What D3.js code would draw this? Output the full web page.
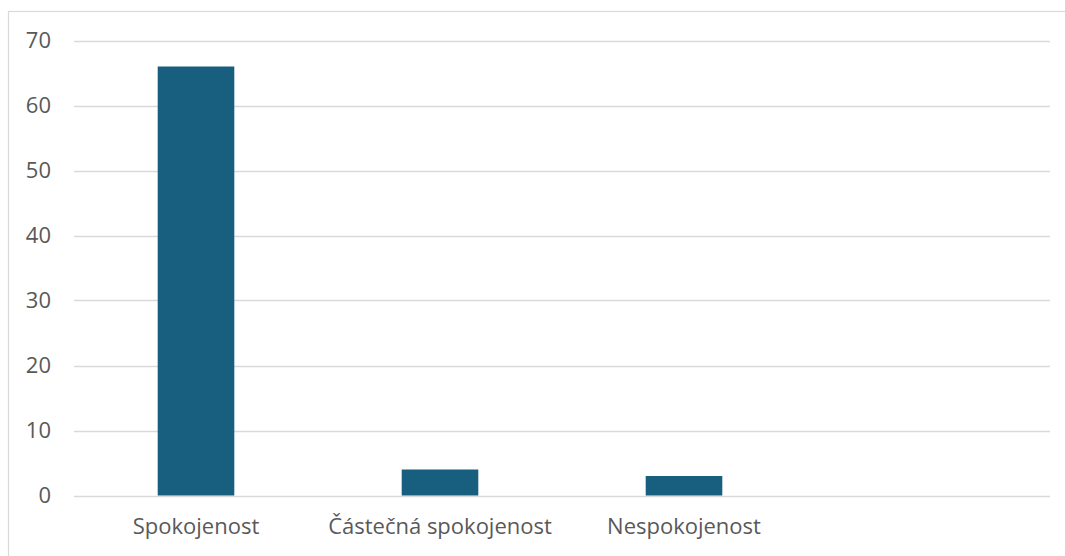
<!DOCTYPE html>
<html>
<head>
<meta charset="utf-8">
<script src="https://cdn.jsdelivr.net/npm/d3@7"></script>
<style>
  html, body { margin: 0; padding: 0; background: #fff; }
  svg { display: block; }
</style>
</head>
<body>
<svg id="chart" width="1065" height="556"></svg>
<script>
// data
const categories = ["Spokojenost", "Částečná spokojenost", "Nespokojenost", ""];
const values = [66, 4, 3, null];
const yTicks = [0, 10, 20, 30, 40, 50, 60, 70];

const svg = d3.select("#chart");
const width = +svg.attr("width");
const height = +svg.attr("height");

const plot = { left: 74, right: 1050, top: 40.5, bottom: 495.5 };
const textColor = "#595959";
const gridColor = "#d9d9d9";
const barColor = "#175e7f";
const fontFamily = "'Open Sans', 'Liberation Sans', sans-serif";

// outer chart frame (only top and left edges fall inside the window)
svg.append("rect")
    .attr("x", 8.5)
    .attr("y", 11.5)
    .attr("width", width + 10)
    .attr("height", height + 10)
    .attr("fill", "none")
    .attr("stroke", gridColor)
    .attr("stroke-width", 1.2);

const x = d3.scaleBand()
    .domain(categories.map((d, i) => i))
    .range([plot.left, plot.right])
    .paddingInner(0.686)
    .paddingOuter(0.343);

const y = d3.scaleLinear()
    .domain([0, 70])
    .range([plot.bottom, plot.top]);

// gridlines
svg.append("g")
    .selectAll("line")
    .data(yTicks)
    .join("line")
    .attr("x1", plot.left)
    .attr("x2", plot.right)
    .attr("y1", d => Math.round(y(d)) + 0.5)
    .attr("y2", d => Math.round(y(d)) + 0.5)
    .attr("stroke", gridColor)
    .attr("stroke-width", 1.5);

// y tick labels
svg.append("g")
    .selectAll("text")
    .data(yTicks)
    .join("text")
    .attr("x", 51)
    .attr("y", d => y(d))
    .attr("dy", "0.35em")
    .attr("text-anchor", "end")
    .attr("fill", textColor)
    .style("font-family", fontFamily)
    .style("font-size", "22px")
    .text(d => d);

// bars
svg.append("g")
    .selectAll("rect")
    .data(values.map((v, i) => ({ v, i })).filter(d => d.v != null))
    .join("rect")
    .attr("x", d => x(d.i))
    .attr("width", x.bandwidth())
    .attr("y", d => y(d.v))
    .attr("height", d => y(0) - y(d.v))
    .attr("fill", barColor);

// category labels
svg.append("g")
    .selectAll("text")
    .data(categories)
    .join("text")
    .attr("x", (d, i) => x(i) + x.bandwidth() / 2)
    .attr("y", 534)
    .attr("text-anchor", "middle")
    .attr("fill", textColor)
    .style("font-family", fontFamily)
    .style("font-size", "22px")
    .text(d => d);
</script>
</body>
</html>
